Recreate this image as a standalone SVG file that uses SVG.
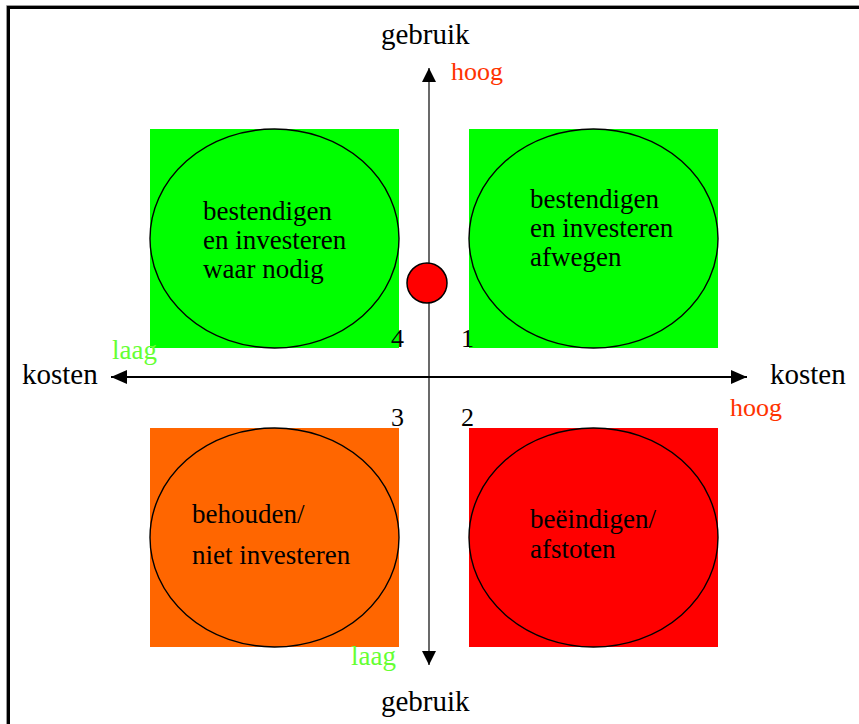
<svg xmlns="http://www.w3.org/2000/svg" width="859" height="724" viewBox="0 0 859 724" font-family="'Liberation Serif', 'Times New Roman', 'DejaVu Serif', serif">
  <style>
    .ax { font-size: 29px; fill: #000; }
    .lbl { font-size: 27px; fill: #000; }
    .num { font-size: 26px; fill: #000; }
    .hi { font-size: 26px; fill: #FF3300; }
    .lo { font-size: 27px; fill: #66FF33; }
    .ell { stroke: #000; stroke-width: 1.4; }
    .axis { stroke: #444; stroke-width: 1.6; fill: none; }
    .haxis { stroke: #000; stroke-width: 2; fill: none; }
  </style>
  <defs>
    <marker id="arr" viewBox="0 0 10 10" refX="10" refY="5" markerWidth="14" markerHeight="14" markerUnits="userSpaceOnUse" orient="auto">
      <path d="M0,0 L10,5 L0,10 z" fill="#000"/>
    </marker>
    <marker id="arrH" viewBox="0 0 16 14" refX="16" refY="7" markerWidth="16" markerHeight="14" markerUnits="userSpaceOnUse" orient="auto">
      <path d="M0,0 L16,7 L0,14 z" fill="#000"/>
    </marker>
  </defs>
  <rect width="859" height="724" fill="#fff"/>
  <path d="M8.5,724 V7.5 H859" fill="none" stroke="#000" stroke-width="3"/>
  <path d="M6.5,724 V5.5 H859" fill="none" stroke="#999" stroke-width="1"/>

  <g id="q4">
    <rect x="150" y="129" width="249" height="219" fill="#00FF00"/>
    <ellipse class="ell" cx="274.5" cy="238.5" rx="124.5" ry="109.5" fill="#00FF00"/>
    <text class="lbl" x="203" y="220">bestendigen</text>
    <text class="lbl" x="203" y="249">en investeren</text>
    <text class="lbl" x="203" y="278">waar nodig</text>
  </g>
  <g id="q1">
    <rect x="469" y="129" width="249" height="219" fill="#00FF00"/>
    <ellipse class="ell" cx="593.5" cy="238.5" rx="124.5" ry="109.5" fill="#00FF00"/>
    <text class="lbl" x="530" y="208">bestendigen</text>
    <text class="lbl" x="530" y="237">en investeren</text>
    <text class="lbl" x="530" y="266">afwegen</text>
  </g>
  <g id="q3">
    <rect x="150" y="428" width="249" height="219" fill="#FF6600"/>
    <ellipse class="ell" cx="274.5" cy="537.5" rx="124.5" ry="109.5" fill="#FF6600"/>
    <text class="lbl" x="192" y="523">behouden/</text>
    <text class="lbl" x="192" y="564">niet investeren</text>
  </g>
  <g id="q2">
    <rect x="469" y="428" width="249" height="219" fill="#FF0000"/>
    <ellipse class="ell" cx="593.5" cy="537.5" rx="124.5" ry="109.5" fill="#FF0000"/>
    <text class="lbl" x="530" y="528">beëindigen/</text>
    <text class="lbl" x="530" y="558">afstoten</text>
  </g>

  <g id="connectors">
    <line class="axis" x1="429" y1="373" x2="429" y2="68" marker-end="url(#arr)"/>
    <line class="axis" x1="429" y1="373" x2="429" y2="665" marker-end="url(#arr)"/>
    <line class="haxis" x1="429" y1="377" x2="111" y2="377" marker-end="url(#arrH)"/>
    <line class="haxis" x1="429" y1="377" x2="747" y2="377" marker-end="url(#arrH)"/>
  </g>

  <g id="dot">
    <circle cx="427" cy="283" r="20" fill="#FF0000" stroke="#000" stroke-width="1.5"/>
  </g>

  <g id="labels">
    <text class="ax" x="381" y="44">gebruik</text>
    <text class="ax" x="381" y="711">gebruik</text>
    <text class="ax" x="22" y="384">kosten</text>
    <text class="ax" x="770" y="384">kosten</text>
    <text class="hi" x="451" y="80">hoog</text>
    <text class="hi" x="730" y="416">hoog</text>
    <text class="lo" x="112" y="359">laag</text>
    <text class="lo" x="351" y="665">laag</text>
    <text class="num" x="391" y="347">4</text>
    <text class="num" x="461" y="347">1</text>
    <text class="num" x="391" y="426">3</text>
    <text class="num" x="461" y="426">2</text>
  </g>
</svg>
